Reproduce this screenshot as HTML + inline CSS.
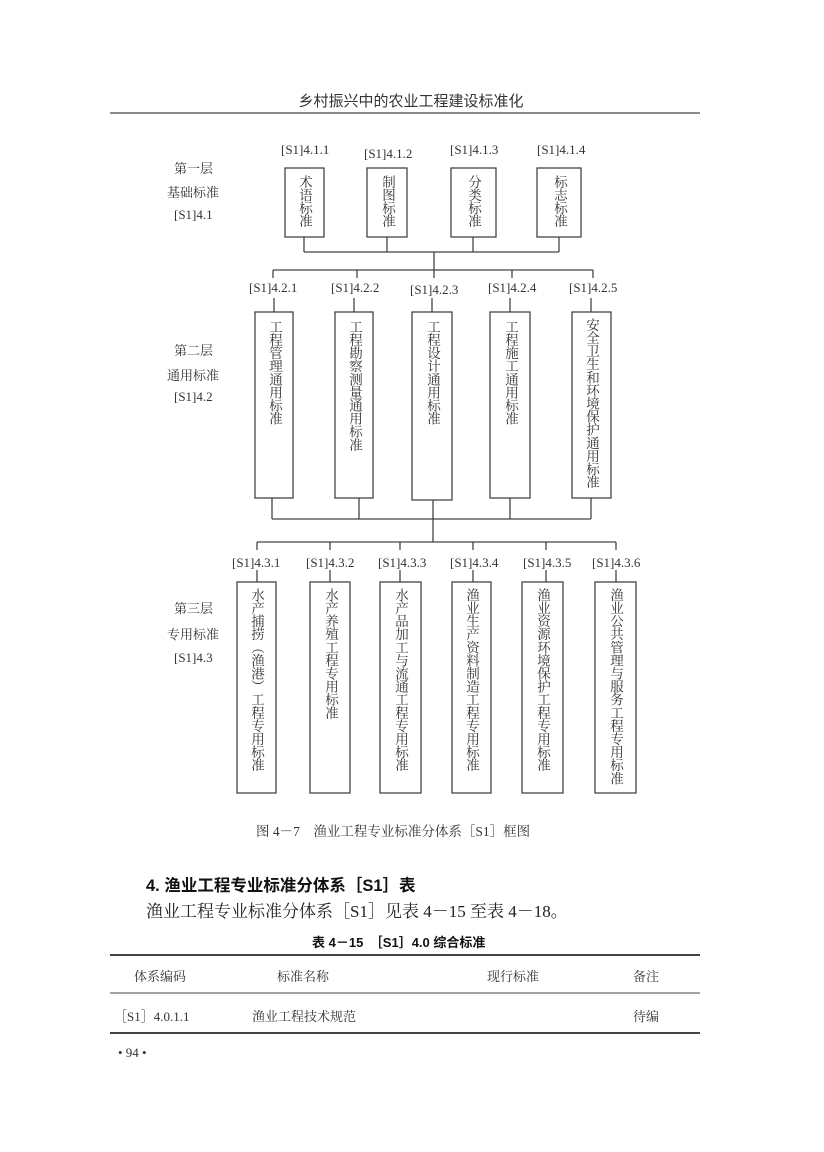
<!DOCTYPE html>
<html><head><meta charset="utf-8"><style>
body{margin:0;background:#fff;}
#p{position:relative;width:824px;height:1152px;overflow:hidden;font-family:"Liberation Serif","Noto Serif CJK SC",serif;color:#333;}
.t{position:absolute;white-space:nowrap;font-size:13px;}
.v{position:absolute;writing-mode:vertical-rl;font-size:13.5px;line-height:14px;letter-spacing:-0.4px;color:#333;}
.s{font-family:"Liberation Sans","Noto Sans CJK SC",sans-serif;}
</style></head><body><div id="p">
<svg width="824" height="1152" style="position:absolute;left:0;top:0" fill="none" stroke="#444" stroke-width="1.3">
<line x1="110" y1="113" x2="700" y2="113"/>
<rect x="285" y="168" width="39" height="69"/><rect x="367" y="168" width="40" height="69"/><rect x="451" y="168" width="45" height="69"/><rect x="537" y="168" width="44" height="69"/>
<path d="M304 237V252M387 237V252M473 237V252M559 237V252M304 252H559M434 252V270M273 270H593M273 270V278M357 270V278M434 270V278M512 270V278M593 270V278"/>
<path d="M274 298V312M354 298V312M432 298V312M510 298V312M591 298V312"/>
<rect x="255" y="312" width="38" height="186"/><rect x="335" y="312" width="38" height="186"/><rect x="412" y="312" width="40" height="188"/><rect x="490" y="312" width="40" height="186"/><rect x="572" y="312" width="39" height="186"/>
<path d="M272 498V519M359 498V519M433 500V519M510 498V519M591 498V519M272 519H591M433 519V542M257 542H616M257 542V550M330 542V550M400 542V550M473 542V550M546 542V550M616 542V550"/>
<path d="M257 570V582M330 570V582M400 570V582M473 570V582M546 570V582M616 570V582"/>
<rect x="237" y="582" width="39" height="211"/><rect x="310" y="582" width="40" height="211"/><rect x="380" y="582" width="41" height="211"/><rect x="452" y="582" width="39" height="211"/><rect x="522" y="582" width="41" height="211"/><rect x="595" y="582" width="41" height="211"/>
<line x1="110" y1="955" x2="700" y2="955" stroke-width="2"/>
<line x1="110" y1="993" x2="700" y2="993" stroke-width="1"/>
<line x1="110" y1="1033" x2="700" y2="1033" stroke-width="2"/>
</svg>
<div class="t s" style="left:298px;top:90px;font-size:15px;width:226px;text-align:center">乡村振兴中的农业工程建设标准化</div>
<div class="t" style="left:281px;top:142px">[S1]4.1.1</div><div class="t" style="left:364px;top:146px">[S1]4.1.2</div><div class="t" style="left:450px;top:142px">[S1]4.1.3</div><div class="t" style="left:537px;top:142px">[S1]4.1.4</div>
<div class="t" style="left:174px;top:158px">第一层</div><div class="t" style="left:167px;top:182px">基础标准</div><div class="t" style="left:174px;top:207px">[S1]4.1</div>
<div class="t" style="left:174px;top:340px">第二层</div><div class="t" style="left:167px;top:365px">通用标准</div><div class="t" style="left:174px;top:389px">[S1]4.2</div>
<div class="t" style="left:174px;top:598px">第三层</div><div class="t" style="left:167px;top:624px">专用标准</div><div class="t" style="left:174px;top:650px">[S1]4.3</div>
<div class="v" style="left:297px;top:175px">术语标准</div><div class="v" style="left:380px;top:175px">制图标准</div><div class="v" style="left:466px;top:175px">分类标准</div><div class="v" style="left:552px;top:175px">标志标准</div>
<div class="t" style="left:249px;top:280px">[S1]4.2.1</div><div class="t" style="left:331px;top:280px">[S1]4.2.2</div><div class="t" style="left:410px;top:282px">[S1]4.2.3</div><div class="t" style="left:488px;top:280px">[S1]4.2.4</div><div class="t" style="left:569px;top:280px">[S1]4.2.5</div>
<div class="v" style="left:267px;top:320px">工程管理通用标准</div><div class="v" style="left:347px;top:320px">工程勘察测量通用标准</div><div class="v" style="left:425px;top:320px">工程设计通用标准</div><div class="v" style="left:503px;top:320px">工程施工通用标准</div><div class="v" style="left:584px;top:318px">安全卫生和环境保护通用标准</div>
<div class="t" style="left:232px;top:555px">[S1]4.3.1</div><div class="t" style="left:306px;top:555px">[S1]4.3.2</div><div class="t" style="left:378px;top:555px">[S1]4.3.3</div><div class="t" style="left:450px;top:555px">[S1]4.3.4</div><div class="t" style="left:523px;top:555px">[S1]4.3.5</div><div class="t" style="left:592px;top:555px">[S1]4.3.6</div>
<div class="v" style="left:249px;top:588px">水产捕捞（渔港）工程专用标准</div>
<div class="v" style="left:323px;top:588px">水产养殖工程专用标准</div>
<div class="v" style="left:393px;top:588px">水产品加工与流通工程专用标准</div>
<div class="v" style="left:464px;top:588px">渔业生产资料制造工程专用标准</div>
<div class="v" style="left:535px;top:588px">渔业资源环境保护工程专用标准</div>
<div class="v" style="left:608px;top:588px">渔业公共管理与服务工程专用标准</div>
<div class="t" style="left:256px;top:820px;font-size:13.5px">图 4－7　渔业工程专业标准分体系［S1］框图</div>
<div class="t s" style="left:146px;top:872px;font-size:16.5px;font-weight:bold;color:#111">4. 渔业工程专业标准分体系［S1］表</div>
<div class="t" style="left:146px;top:897px;font-size:17px;color:#222">渔业工程专业标准分体系［S1］见表 4－15 至表 4－18。</div>
<div class="t s" style="left:312px;top:932px;font-size:13px;font-weight:bold;color:#111">表 4－15　［S1］4.0 综合标准</div>
<div class="t" style="left:134px;top:966px">体系编码</div><div class="t" style="left:277px;top:966px">标准名称</div><div class="t" style="left:487px;top:966px">现行标准</div><div class="t" style="left:633px;top:966px">备注</div>
<div class="t" style="left:114px;top:1006px">［S1］4.0.1.1</div><div class="t" style="left:252px;top:1006px">渔业工程技术规范</div><div class="t" style="left:633px;top:1006px">待编</div>
<div class="t" style="left:118px;top:1045px">• 94 •</div>
</div></body></html>
